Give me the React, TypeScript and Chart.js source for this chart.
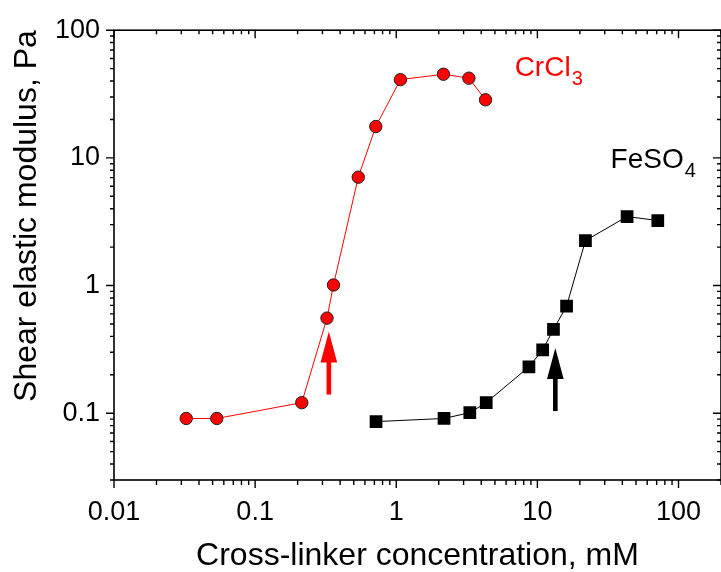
import React, { useEffect, useRef } from 'react';
import { Chart, registerables } from 'chart.js';

Chart.register(...registerables);

// ---- data ----
const crcl3Conc = [0.0325, 0.0535, 0.214, 0.323, 0.359, 0.538, 0.716, 1.07, 2.16, 3.27, 4.29];
const crcl3Modulus = [0.091, 0.091, 0.121, 0.556, 1.01, 7.06, 17.6, 41.0, 45.2, 42.1, 28.5];

const feso4Conc = [0.719, 2.18, 3.32, 4.34, 8.71, 10.9, 13.0, 16.1, 21.9, 43.2, 71.3];
const feso4Modulus = [0.086, 0.091, 0.101, 0.121, 0.231, 0.313, 0.453, 0.69, 2.25, 3.47, 3.23];

const xMajorTicks = [0.01, 0.1, 1, 10, 100];
const xTickLabels = ['0.01', '0.1', '1', '10', '100'];
const yMajorTicks = [0.1, 1, 10, 100];
const yTickLabels = ['0.1', '1', '10', '100'];

const arrowConc = [0.333, 13.4];
const arrowFrom = [0.14, 0.104];
const arrowTo = [0.437, 0.325];
const arrowColors = ['#ff0000', '#000000'];

const seriesNames = ['CrCl', 'FeSO'];
const seriesSubscripts = ['3', '4'];
const seriesLabelX = [6.9, 33.0];
const seriesLabelY = [43.8, 8.4];
const seriesLabelColors = ['#ff0000', '#000000'];

const xTitle = 'Cross-linker concentration, mM';
const yTitle = 'Shear elastic modulus, Pa';

const FONT = "Arial, 'Liberation Sans', sans-serif";
const X_MIN = 0.01;
const X_MAX = 200;
const Y_MIN = 0.03;
const Y_MAX = 100;

function logTicks(min: number, max: number) {
  const out: { v: number; major: boolean }[] = [];
  for (let e = Math.floor(Math.log10(min)); e <= Math.ceil(Math.log10(max)); e++) {
    const base = Math.pow(10, e);
    for (let m = 1; m <= 9; m++) {
      const v = m * base;
      if (v >= min * 0.9999 && v <= max * 1.0001) out.push({ v, major: m === 1 });
    }
  }
  return out;
}

const framePlugin = {
  id: 'framePlugin',
  afterDraw(chart: any) {
    const { ctx, chartArea: a, scales } = chart;
    const xs = scales.x;
    const ys = scales.y;
    ctx.save();
    ctx.strokeStyle = '#000';
    ctx.lineWidth = 1.6;
    ctx.strokeRect(a.left, a.top, a.right - a.left, a.bottom - a.top);
    ctx.lineWidth = 1.4;
    ctx.beginPath();
    for (const t of logTicks(X_MIN, X_MAX)) {
      const px = xs.getPixelForValue(t.v);
      const len = t.major ? 8 : 5;
      ctx.moveTo(px, a.bottom);
      ctx.lineTo(px, a.bottom + len);
      ctx.moveTo(px, a.top);
      ctx.lineTo(px, a.top + (t.major ? 8 : 4));
    }
    for (const t of logTicks(Y_MIN, Y_MAX)) {
      const py = ys.getPixelForValue(t.v);
      const len = t.major ? 8 : 4;
      ctx.moveTo(a.left, py);
      ctx.lineTo(a.left - len, py);
      ctx.moveTo(a.right, py);
      ctx.lineTo(a.right - len, py);
    }
    ctx.stroke();

    // arrows
    for (let i = 0; i < arrowConc.length; i++) {
      const px = xs.getPixelForValue(arrowConc[i]);
      const y0 = ys.getPixelForValue(arrowFrom[i]);
      const y1 = ys.getPixelForValue(arrowTo[i]);
      const headLen = 31;
      const headHalf = 8.3;
      ctx.fillStyle = arrowColors[i];
      ctx.fillRect(px - 2.3, y1 + headLen - 1, 4.6, y0 - (y1 + headLen - 1));
      ctx.beginPath();
      ctx.moveTo(px, y1);
      ctx.lineTo(px + headHalf, y1 + headLen);
      ctx.lineTo(px - headHalf, y1 + headLen);
      ctx.closePath();
      ctx.fill();
    }

    // series labels
    for (let i = 0; i < seriesNames.length; i++) {
      const px = xs.getPixelForValue(seriesLabelX[i]);
      const py = ys.getPixelForValue(seriesLabelY[i]);
      ctx.fillStyle = seriesLabelColors[i];
      ctx.textBaseline = 'alphabetic';
      ctx.textAlign = 'left';
      ctx.font = `28px ${FONT}`;
      ctx.fillText(seriesNames[i], px, py);
      const w = ctx.measureText(seriesNames[i]).width;
      ctx.font = `20px ${FONT}`;
      ctx.fillText(seriesSubscripts[i], px + w + 1, py + 9);
    }
    ctx.restore();
  },
};

export default function App() {
  const ref = useRef<HTMLCanvasElement | null>(null);
  useEffect(() => {
    if (!ref.current) return;
    const chart = new Chart(ref.current, {
      type: 'line',
      data: {
        datasets: [
          {
            label: 'CrCl3',
            data: crcl3Conc.map((x, i) => ({ x, y: crcl3Modulus[i] })),
            borderColor: '#ff0000',
            borderWidth: 1,
            pointStyle: 'circle',
            pointRadius: 6.2,
            pointBackgroundColor: '#ff0000',
            pointBorderColor: '#222',
            pointBorderWidth: 1,
            tension: 0,
          },
          {
            label: 'FeSO4',
            data: feso4Conc.map((x, i) => ({ x, y: feso4Modulus[i] })),
            borderColor: '#000000',
            borderWidth: 1,
            pointStyle: 'rect',
            pointRadius: 9,
            pointBackgroundColor: '#000000',
            pointBorderColor: '#000000',
            pointBorderWidth: 0,
            tension: 0,
          },
        ],
      },
      options: {
        responsive: false,
        animation: false,
        events: [],
        layout: { padding: { top: 29, right: 4, left: 0, bottom: 0 } },
        plugins: { legend: { display: false }, tooltip: { enabled: false } },
        scales: {
          x: {
            type: 'logarithmic',
            min: X_MIN,
            max: X_MAX,
            grid: { display: false, drawTicks: false },
            border: { display: false },
            afterBuildTicks: (scale: any) => {
              scale.ticks = xMajorTicks.map((v) => ({ value: v }));
            },
            afterFit: (scale: any) => {
              scale.height = 92;
            },
            ticks: {
              autoSkip: false,
              maxRotation: 0,
              padding: 16,
              color: '#000',
              font: { family: FONT, size: 27, lineHeight: 1.2 },
              callback: (v: any) => {
                const i = xMajorTicks.findIndex((m) => Math.abs(m - Number(v)) / m < 1e-6);
                return i >= 0 ? xTickLabels[i] : '';
              },
            },
            title: {
              display: true,
              text: xTitle,
              color: '#000',
              padding: 0,
              font: { family: FONT, size: 32, lineHeight: 1 },
            },
          },
          y: {
            type: 'logarithmic',
            min: Y_MIN,
            max: Y_MAX,
            grid: { display: false, drawTicks: false },
            border: { display: false },
            afterBuildTicks: (scale: any) => {
              scale.ticks = yMajorTicks.map((v) => ({ value: v }));
            },
            afterFit: (scale: any) => {
              scale.width = 114;
            },
            ticks: {
              autoSkip: false,
              padding: 14,
              color: '#000',
              font: { family: FONT, size: 27, lineHeight: 1.2 },
              callback: (v: any) => {
                const i = yMajorTicks.findIndex((m) => Math.abs(m - Number(v)) / m < 1e-6);
                return i >= 0 ? yTickLabels[i] : '';
              },
            },
            title: {
              display: true,
              text: yTitle,
              color: '#000',
              align: 'end',
              padding: { top: 11, bottom: 0 },
              font: { family: FONT, size: 32, lineHeight: 1 },
            },
          },
        },
      },
      plugins: [framePlugin],
    } as any);
    return () => chart.destroy();
  }, []);

  return (
    <div
      style={{
        position: 'fixed',
        left: 0,
        top: 0,
        width: 721,
        height: 572,
        overflow: 'hidden',
        background: '#fff',
      }}
    >
      <canvas ref={ref} width={730} height={572} style={{ width: 730, height: 572, display: 'block' }} />
    </div>
  );
}
